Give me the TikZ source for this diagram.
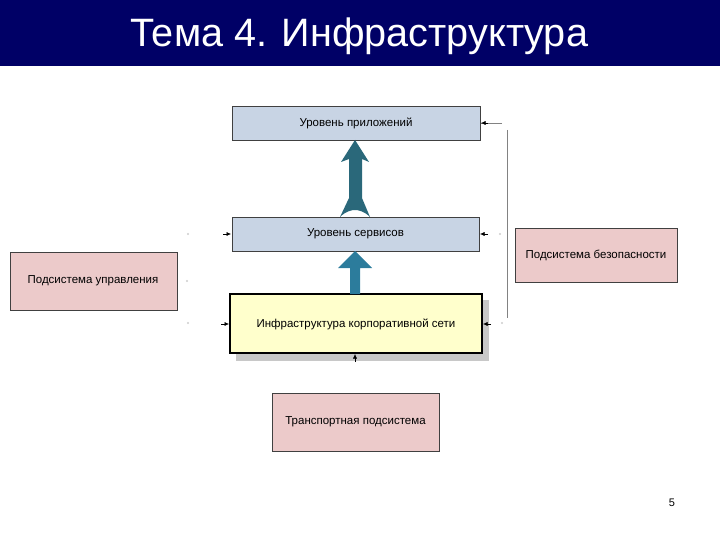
\documentclass[tikz,border=0pt]{standalone}
\usepackage{fontspec}
\setmainfont{Liberation Sans}
\definecolor{navy}{RGB}{0,0,102}
\definecolor{bluegray}{RGB}{200,212,228}
\definecolor{pinkbox}{RGB}{236,202,202}
\definecolor{yellowbox}{RGB}{255,255,204}
\definecolor{tealdark}{RGB}{42,104,122}
\definecolor{teallight}{RGB}{44,124,156}
\definecolor{linegray}{RGB}{130,130,130}
\definecolor{shadowgray}{RGB}{200,200,200}
\tikzset{
  boxtext/.style={font=\fontsize{11.5}{13}\selectfont, text=black},
  level/.style={draw=black!75, fill=bluegray, line width=0.6pt},
  subsys/.style={draw=black!75, fill=pinkbox, line width=0.6pt},
  conn/.style={draw=linegray, line width=0.5pt},
  tip/.style={-{Latex[length=4.5pt,width=4pt]}, draw=black, line width=0.5pt}
}
\usetikzlibrary{arrows.meta}
\begin{document}
\begin{tikzpicture}[x=1pt,y=-1pt]
\useasboundingbox (0,0) rectangle (720,540);
% title bar
\fill[navy] (0,0) rectangle (720,66);
\node[anchor=base, text=white, font=\fontsize{39.6}{44}\selectfont] (title) at (359,47) {Тема 4. Инфраструктура};

% boxes
\draw[level] (232,106) rectangle (480,140);
\node[boxtext] (app) at (356,123) {Уровень приложений};
\draw[level] (232,217) rectangle (479,251);
\node[boxtext] (serv) at (355.5,234) {Уровень сервисов};

\fill[shadowgray] (236,300) rectangle (489,361);
\draw[draw=black, fill=yellowbox, line width=1.2pt] (230,294) rectangle (482,353);
\node[boxtext] (infra) at (356,324) {Инфраструктура корпоративной сети};

\draw[subsys] (10,252) rectangle (177,310);
\node[boxtext] (mgmt) at (93,281) {Подсистема управления};
\draw[subsys] (515,228) rectangle (677,282);
\node[boxtext] (sec) at (596,255) {Подсистема безопасности};
\draw[subsys] (272,393) rectangle (439,451);
\node[boxtext] (trans) at (355.5,422) {Транспортная подсистема};

% big arrow from services to applications
\fill[tealdark] (355,140) -- (369,162) -- (362,159) -- (362,198) -- (370,217)
  .. controls (364,211) and (358,210) .. (355,210)
  .. controls (352,210) and (346,211) .. (340,217) -- (349,198) -- (349,159) -- (341,162) -- cycle;

% arrow from infrastructure to services
\fill[teallight] (355,251) -- (372,268) -- (360,268) -- (360,294) -- (350,294) -- (350,268) -- (338,268) -- cycle;

% right-hand connectors
\coordinate (rtop) at (502,123);
\coordinate (vtop) at (507,130);
\coordinate (vbot) at (507,318);
\draw[conn] (vtop) -- (vbot);
\draw[conn] (rtop) -- (481,123);
\draw[tip] (488,123) -- (481,123);
\draw[tip] (488,234) -- (480,234);
\draw[tip] (491,324) -- (483,324);

% left-hand connectors
\draw[tip] (223,234) -- (231,234);
\draw[tip] (221,324) -- (229,324);

% bottom small arrow
\draw[tip] (355,362) -- (355,354);

% faint marks
\fill[black!20] (188,234) circle (1.2);
\fill[black!20] (188,323) circle (1.2);
\fill[black!20] (187,281) circle (1.2);
\fill[black!20] (500,234) circle (1.2);
\fill[black!20] (502,323) circle (1.2);

% page number
\node[font=\fontsize{11}{13}\selectfont] (pnum) at (672,503) {5};
\end{tikzpicture}
\end{document}
